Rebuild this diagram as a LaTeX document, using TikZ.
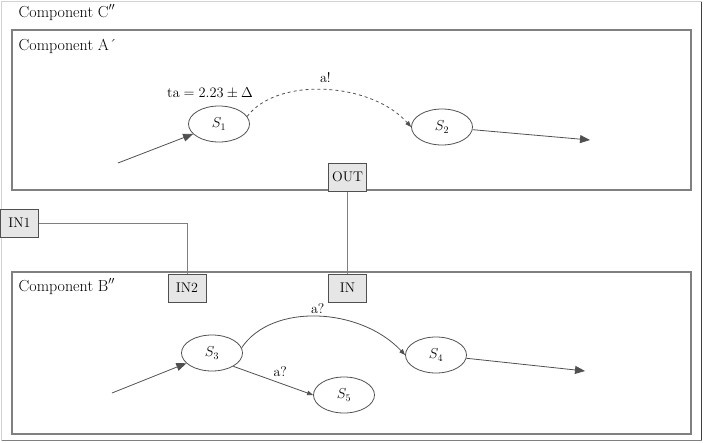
\documentclass[tikz,border=0pt]{standalone}
\usepackage{tikz}
\usetikzlibrary{arrows.meta, positioning, shapes.geometric}
\definecolor{boxgray}{HTML}{808080}
\definecolor{linegray}{HTML}{505050}
\definecolor{portfill}{HTML}{E6E6E6}

\begin{document}
\begin{tikzpicture}[x=1pt, y=-1pt, line width=0.8pt,
    font=\fontsize{14}{16}\selectfont,
    state/.style={ellipse, draw=linegray, minimum width=61pt, minimum height=36pt, inner sep=0pt},
    port/.style={draw=linegray, fill=portfill, line width=1pt, minimum width=38pt, minimum height=28pt, inner sep=0pt},
    comp/.style={draw=boxgray, line width=1.2pt},
    title/.style={anchor=base west, font=\fontsize{16}{18}\selectfont},
    trans/.style={draw=linegray, -{Triangle[length=6pt, width=4.5pt]}},
    entry/.style={draw=linegray, -{Triangle[length=10pt, width=8pt]}},
    wire/.style={draw=boxgray, line width=1pt}]

  \useasboundingbox (0,0) rectangle (704,442);

  % Component boxes
  \draw[draw=gray!35, line width=1pt] (1.5,1.5) rectangle (701.5,440.5);
  \draw[draw=black!75, line width=1.6pt] (701.5,1.5) -- (701.5,440.5);
  \draw[draw=gray, line width=1.6pt] (701.5,440.5) -- (1.5,440.5);
  \draw[comp] (12,30) rectangle (691,190);
  \draw[comp] (12,272) rectangle (691,434);

  \node[title] (titleC) at (15,17) {Component C$''$};
  \node[title] (titleA) at (15,50) {Component A´};
  \node[title] (titleB) at (15,291) {Component B$''$};

  % States
  \node[state] (s1) at (219,124) {$S_1$};
  \node[state] (s2) at (442,127) {$S_2$};
  \node[state] (s3) at (212,353) {$S_3$};
  \node[state] (s4) at (436,355) {$S_4$};
  \node[state] (s5) at (344,395) {$S_5$};
  \node[above=3pt of s1, xshift=-9pt] (ta) {$\mathrm{ta}=2.23\pm\Delta$};

  % Ports and wires
  \node[port] (out) at (347.5,177) {OUT};
  \node[port] (in) at (347.5,288) {IN};
  \node[port] (in1) at (19.5,223) {IN1};
  \node[port] (in2) at (187,288) {IN2};
  \draw[wire] (out.south) -- (in.north);
  \draw[wire] (in1.east) -| (in2.north);

  % Transitions of A
  \coordinate (init1) at (118,163);
  \coordinate (exit2) at (590,140);
  \draw[entry] (init1) -- (s1);
  \draw[entry] (s2) -- (exit2);
  \draw[trans, dashed] (s1.15) .. controls +(30,-40) and +(-40,-45) .. (s2.west)
    node[midway, above=3pt] (sendA) {a!};

  % Transitions of B
  \coordinate (init3) at (112,393);
  \coordinate (exit4) at (585,371);
  \draw[entry] (init3) -- (s3);
  \draw[entry] (s4) -- (exit4);
  \draw[trans] (s3.10) .. controls +(30,-45) and +(-45,-48) .. (s4.west)
    node[midway, above=-1pt] (recvB) {a?};
  \draw[trans] (s3.-32) -- (s5.west)
    node[midway, above, xshift=7pt] (recvC) {a?};

\end{tikzpicture}
\end{document}
